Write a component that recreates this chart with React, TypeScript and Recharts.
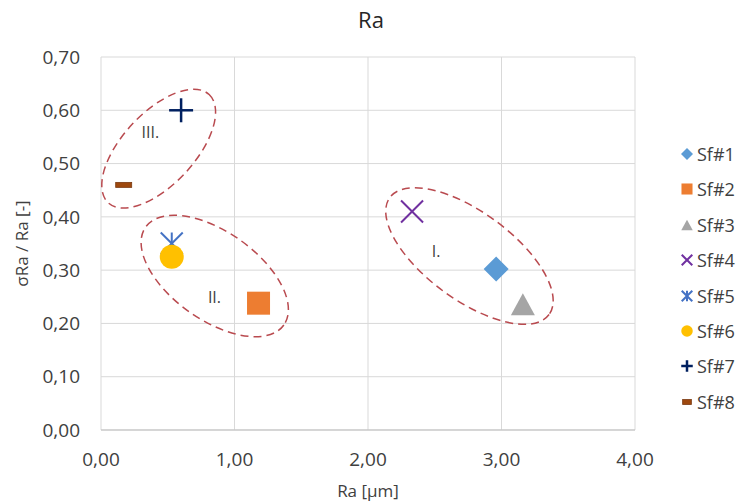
import React from 'react'
import { ScatterChart, Scatter, XAxis, YAxis, CartesianGrid, ReferenceDot } from 'recharts'

// values
const seriesNames = ['Sf#1', 'Sf#2', 'Sf#3', 'Sf#4', 'Sf#5', 'Sf#6', 'Sf#7', 'Sf#8']
const raValues = [2.96, 1.18, 3.16, 2.33, 0.53, 0.53, 0.6, 0.17]
const sigmaRatio = [0.302, 0.238, 0.236, 0.41, 0.35, 0.325, 0.6, 0.46]
const xTicks = [0, 1, 2, 3, 4]
const yTicks = [0, 0.1, 0.2, 0.3, 0.4, 0.5, 0.6, 0.7]

// group ellipses (centre in data units)
const groupNames = ['I.', 'II.', 'III.']
const groupCenterX = [2.76, 0.852, 0.432]
const groupCenterY = [0.3265, 0.289, 0.528]
const groupLabelX = [2.51, 0.85, 0.37]
const groupLabelY = [0.335, 0.25, 0.56]

// styling
const seriesColors = ['#5b9bd5', '#ed7d31', '#a5a5a5', '#7030a0', '#4472c4', '#ffc000', '#002060', '#9e480e']
const markerKinds = ['diamond', 'square', 'triangle', 'x', 'star', 'circle', 'plus', 'dash']
const ellipseRx = [98.8, 84.7, 74]
const ellipseRy = [43.8, 44, 36]
const ellipseAngle = [36.3, 35.3, -47]

const FONT = '"Open Sans", "Noto Sans", sans-serif'
const TEXT = '#404040'

const fmt = (v: number) => v.toFixed(2).replace('.', ',')

function Marker({ kind, cx, cy, color, s = 1 }: { kind: string; cx: number; cy: number; color: string; s?: number }) {
  switch (kind) {
    case 'diamond': {
      const h = 12.5 * s
      return <polygon points={`${cx},${cy - h} ${cx + h},${cy} ${cx},${cy + h} ${cx - h},${cy}`} fill={color} />
    }
    case 'square': {
      const h = 11.5 * s
      return <rect x={cx - h} y={cy - h} width={2 * h} height={2 * h} fill={color} />
    }
    case 'triangle': {
      const w = 12 * s, h = 11 * s
      return <polygon points={`${cx},${cy - h} ${cx + w},${cy + h} ${cx - w},${cy + h}`} fill={color} />
    }
    case 'x': {
      const h = 11 * s
      return (
        <g stroke={color} strokeWidth={2}>
          <line x1={cx - h} y1={cy - h} x2={cx + h} y2={cy + h} />
          <line x1={cx - h} y1={cy + h} x2={cx + h} y2={cy - h} />
        </g>
      )
    }
    case 'star': {
      const h = 11 * s
      return (
        <g stroke={color} strokeWidth={2}>
          <line x1={cx - h} y1={cy - h} x2={cx + h} y2={cy + h} />
          <line x1={cx - h} y1={cy + h} x2={cx + h} y2={cy - h} />
          <line x1={cx} y1={cy - h} x2={cx} y2={cy + h} />
        </g>
      )
    }
    case 'circle':
      return <circle cx={cx} cy={cy} r={12 * s} fill={color} />
    case 'plus': {
      const h = 12 * s
      return (
        <g stroke={color} strokeWidth={2.5}>
          <line x1={cx - h} y1={cy} x2={cx + h} y2={cy} />
          <line x1={cx} y1={cy - h} x2={cx} y2={cy + h} />
        </g>
      )
    }
    case 'dash': {
      const w = 7 * s + 1, h = 2.5
      return <rect x={cx - w} y={cy - h} width={2 * w} height={2 * h} fill={color} stroke="#7a3a12" strokeWidth={0.8} />
    }
  }
  return null
}

export default function App() {
  return (
    <div style={{ position: 'absolute', left: 0, top: 0, width: 742, height: 503, background: '#fff', fontFamily: FONT }}>
      <div style={{ position: 'absolute', left: 0, width: 742, top: 4, textAlign: 'center', fontSize: 22, color: '#262626', paddingRight: 2 }}>
        Ra
      </div>
      <ScatterChart width={742} height={503} margin={{ top: 57, right: 107, bottom: 0, left: 0 }}>
        <CartesianGrid stroke="#d9d9d9" strokeWidth={1} />
        <XAxis
          type="number"
          dataKey="x"
          domain={[0, 4]}
          ticks={xTicks}
          tickFormatter={fmt}
          height={73}
          tickSize={0}
          tickMargin={23}
          axisLine={{ stroke: '#bfbfbf' }}
          tick={{ fill: TEXT, fontSize: 19, fontFamily: FONT }}
          label={{ value: 'Ra [µm]', position: 'insideBottom', offset: 6, fill: TEXT, fontSize: 17, fontFamily: FONT }}
        />
        <YAxis
          type="number"
          dataKey="y"
          domain={[0, 0.7]}
          ticks={yTicks}
          tickFormatter={fmt}
          width={101}
          tickSize={0}
          tickMargin={21}
          axisLine={false}
          tick={{ fill: TEXT, fontSize: 19, fontFamily: FONT }}
          label={{ value: 'σRa / Ra [-]', angle: -90, position: 'insideLeft', offset: 22, fill: TEXT, fontSize: 17, fontFamily: FONT, style: { textAnchor: 'middle' } }}
        />
        {groupNames.map((g, i) => (
          <ReferenceDot
            key={'e' + g}
            x={groupCenterX[i]}
            y={groupCenterY[i]}
            ifOverflow="visible"
            shape={(p: any) => (
              <ellipse
                cx={p.cx}
                cy={p.cy}
                rx={ellipseRx[i]}
                ry={ellipseRy[i]}
                transform={`rotate(${ellipseAngle[i]} ${p.cx} ${p.cy})`}
                fill="none"
                stroke="#b94a4f"
                strokeWidth={1.5}
                strokeDasharray="8 5"
              />
            )}
          />
        ))}
        {groupNames.map((g, i) => (
          <ReferenceDot
            key={'l' + g}
            x={groupLabelX[i]}
            y={groupLabelY[i]}
            ifOverflow="visible"
            shape={(p: any) => (
              <text x={p.cx} y={p.cy} textAnchor="middle" dominantBaseline="central" fill={TEXT} fontSize={16} fontFamily={FONT}>
                {g}
              </text>
            )}
          />
        ))}
        {seriesNames.map((name, i) => (
          <Scatter
            key={name}
            name={name}
            data={[{ x: raValues[i], y: sigmaRatio[i] }]}
            fill={seriesColors[i]}
            isAnimationActive={false}
            shape={(p: any) => <Marker kind={markerKinds[i]} cx={p.cx} cy={p.cy} color={seriesColors[i]} />}
          />
        ))}
      </ScatterChart>
      {seriesNames.map((name, i) => (
        <div
          key={name}
          style={{ position: 'absolute', left: 676, top: 154 + i * 35.4 - 12, height: 24, display: 'flex', alignItems: 'center', fontSize: 18, color: TEXT }}
        >
          <svg width={20} height={24} style={{ display: 'block' }}>
            <Marker kind={markerKinds[i]} cx={11} cy={12} color={seriesColors[i]} s={0.48} />
          </svg>
          <span style={{ marginLeft: 1 }}>{name}</span>
        </div>
      ))}
    </div>
  )
}
